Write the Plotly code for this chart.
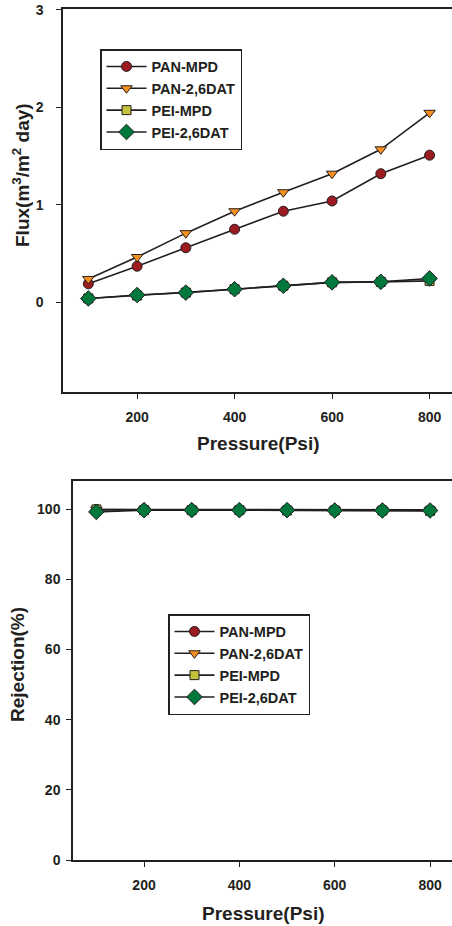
import plotly.graph_objects as go

# ---- data ----
pressure = [100, 200, 300, 400, 500, 600, 700, 800]
series_names = ["PAN-MPD", "PAN-2,6DAT", "PEI-MPD", "PEI-2,6DAT"]

flux_pan_mpd = [0.19, 0.37, 0.56, 0.75, 0.935, 1.04, 1.32, 1.51]
flux_pan_26dat = [0.24, 0.465, 0.71, 0.935, 1.13, 1.32, 1.57, 1.945]
flux_pei_mpd = [0.04, 0.07, 0.10, 0.135, 0.17, 0.205, 0.21, 0.22]
flux_pei_26dat = [0.04, 0.075, 0.10, 0.135, 0.17, 0.205, 0.21, 0.245]

rej_pan_mpd = [99.9, 99.9, 99.9, 99.9, 99.8, 99.8, 99.8, 99.8]
rej_pan_26dat = [99.8, 99.8, 99.8, 99.8, 99.8, 99.8, 99.7, 99.7]
rej_pei_mpd = [99.9, 99.7, 99.7, 99.7, 99.6, 99.6, 99.6, 99.5]
rej_pei_26dat = [99.2, 99.7, 99.7, 99.7, 99.7, 99.6, 99.6, 99.6]

flux_ticks = [0, 1, 2, 3]
rej_ticks = [0, 20, 40, 60, 80, 100]
x_ticks = [200, 400, 600, 800]

# ---- styles ----
INK = "#231f20"
FONT = "Liberation Sans, Arial, sans-serif"
styles = [
    dict(symbol="circle", color="#9b1b20", size=10),
    dict(symbol="triangle-down", color="#f7901e", size=10),
    dict(symbol="square", color="#c4c23a", size=9),
    dict(symbol="diamond", color="#00783c", size=12),
]

W, H = 452, 926

fig = go.Figure()

flux_data = [flux_pan_mpd, flux_pan_26dat, flux_pei_mpd, flux_pei_26dat]
rej_data = [rej_pan_mpd, rej_pan_26dat, rej_pei_mpd, rej_pei_26dat]

for name, ys, st in zip(series_names, flux_data, styles):
    fig.add_trace(go.Scatter(
        x=pressure, y=ys, name=name, mode="lines+markers",
        line=dict(color=INK, width=1.6),
        marker=dict(symbol=st["symbol"], color=st["color"], size=st["size"],
                    line=dict(color=INK, width=1)),
        xaxis="x", yaxis="y", legend="legend",
    ))

for name, ys, st in zip(series_names, rej_data, styles):
    fig.add_trace(go.Scatter(
        x=pressure, y=ys, name=name, mode="lines+markers",
        line=dict(color=INK, width=1.6),
        marker=dict(symbol=st["symbol"], color=st["color"], size=st["size"],
                    line=dict(color=INK, width=1)),
        xaxis="x2", yaxis="y2", legend="legend2",
    ))

tickfont = dict(family=FONT, size=14, color=INK, weight="bold")
axis_common = dict(
    showline=True, linecolor=INK, linewidth=1.5,
    ticks="outside", ticklen=5, tickwidth=1.2, tickcolor=INK,
    showgrid=False, zeroline=False, tickfont=tickfont, automargin=False,
    ticklabeloverflow="allow",
)

legend_font = dict(family=FONT, size=14.5, color=INK, weight="bold")

fig.update_layout(
    width=W, height=H,
    margin=dict(l=0, r=0, t=0, b=0),
    paper_bgcolor="white", plot_bgcolor="white",
    showlegend=True,
    xaxis=dict(domain=[63 / W, 1.0], range=[48, 846], tickvals=x_ticks,
               anchor="y", mirror=True, ticklabelstandoff=6, **axis_common),
    yaxis=dict(domain=[1 - 392 / H, 1 - 9 / H], range=[-0.92, 3.01],
               tickvals=flux_ticks, anchor="x", ticklabelstandoff=10, **axis_common),
    xaxis2=dict(domain=[73 / W, 1.0], range=[51, 846], tickvals=x_ticks,
                anchor="y2", mirror=True, ticklabelstandoff=6, **axis_common),
    yaxis2=dict(domain=[1 - 860 / H, 1 - 481 / H], range=[0, 108],
                tickvals=rej_ticks, anchor="x2", ticklabelstandoff=3, **axis_common),
    legend=dict(x=100 / W, y=1 - 49 / H, xanchor="left", yanchor="top",
                bgcolor="white", bordercolor=INK, borderwidth=1.5,
                font=legend_font, tracegroupgap=0, itemclick=False, itemwidth=40),
    legend2=dict(x=168 / W, y=1 - 614 / H, xanchor="left", yanchor="top",
                 bgcolor="white", bordercolor=INK, borderwidth=1.5,
                 font=legend_font, tracegroupgap=0, itemclick=False, itemwidth=40),
)

title_font = dict(family=FONT, size=19, color=INK, weight="bold")
annots = [
    dict(text="Flux(m<sup>3</sup>/m<sup>2</sup> day)", x=21 / W, y=1 - 175 / H, textangle=-90),
    dict(text="Rejection(%)", x=17 / W, y=1 - 665 / H, textangle=-90),
    dict(text="Pressure(Psi)", x=258 / W, y=1 - 443 / H, textangle=0),
    dict(text="Pressure(Psi)", x=263 / W, y=1 - 913 / H, textangle=0),
]
for a in annots:
    fig.add_annotation(xref="paper", yref="paper", showarrow=False,
                       xanchor="center", yanchor="middle", font=title_font, **a)

fig.write_html(
    "out.html",
    config={"displayModeBar": False},
    post_script="document.body.style.margin='0';document.body.style.overflow='hidden';",
)
